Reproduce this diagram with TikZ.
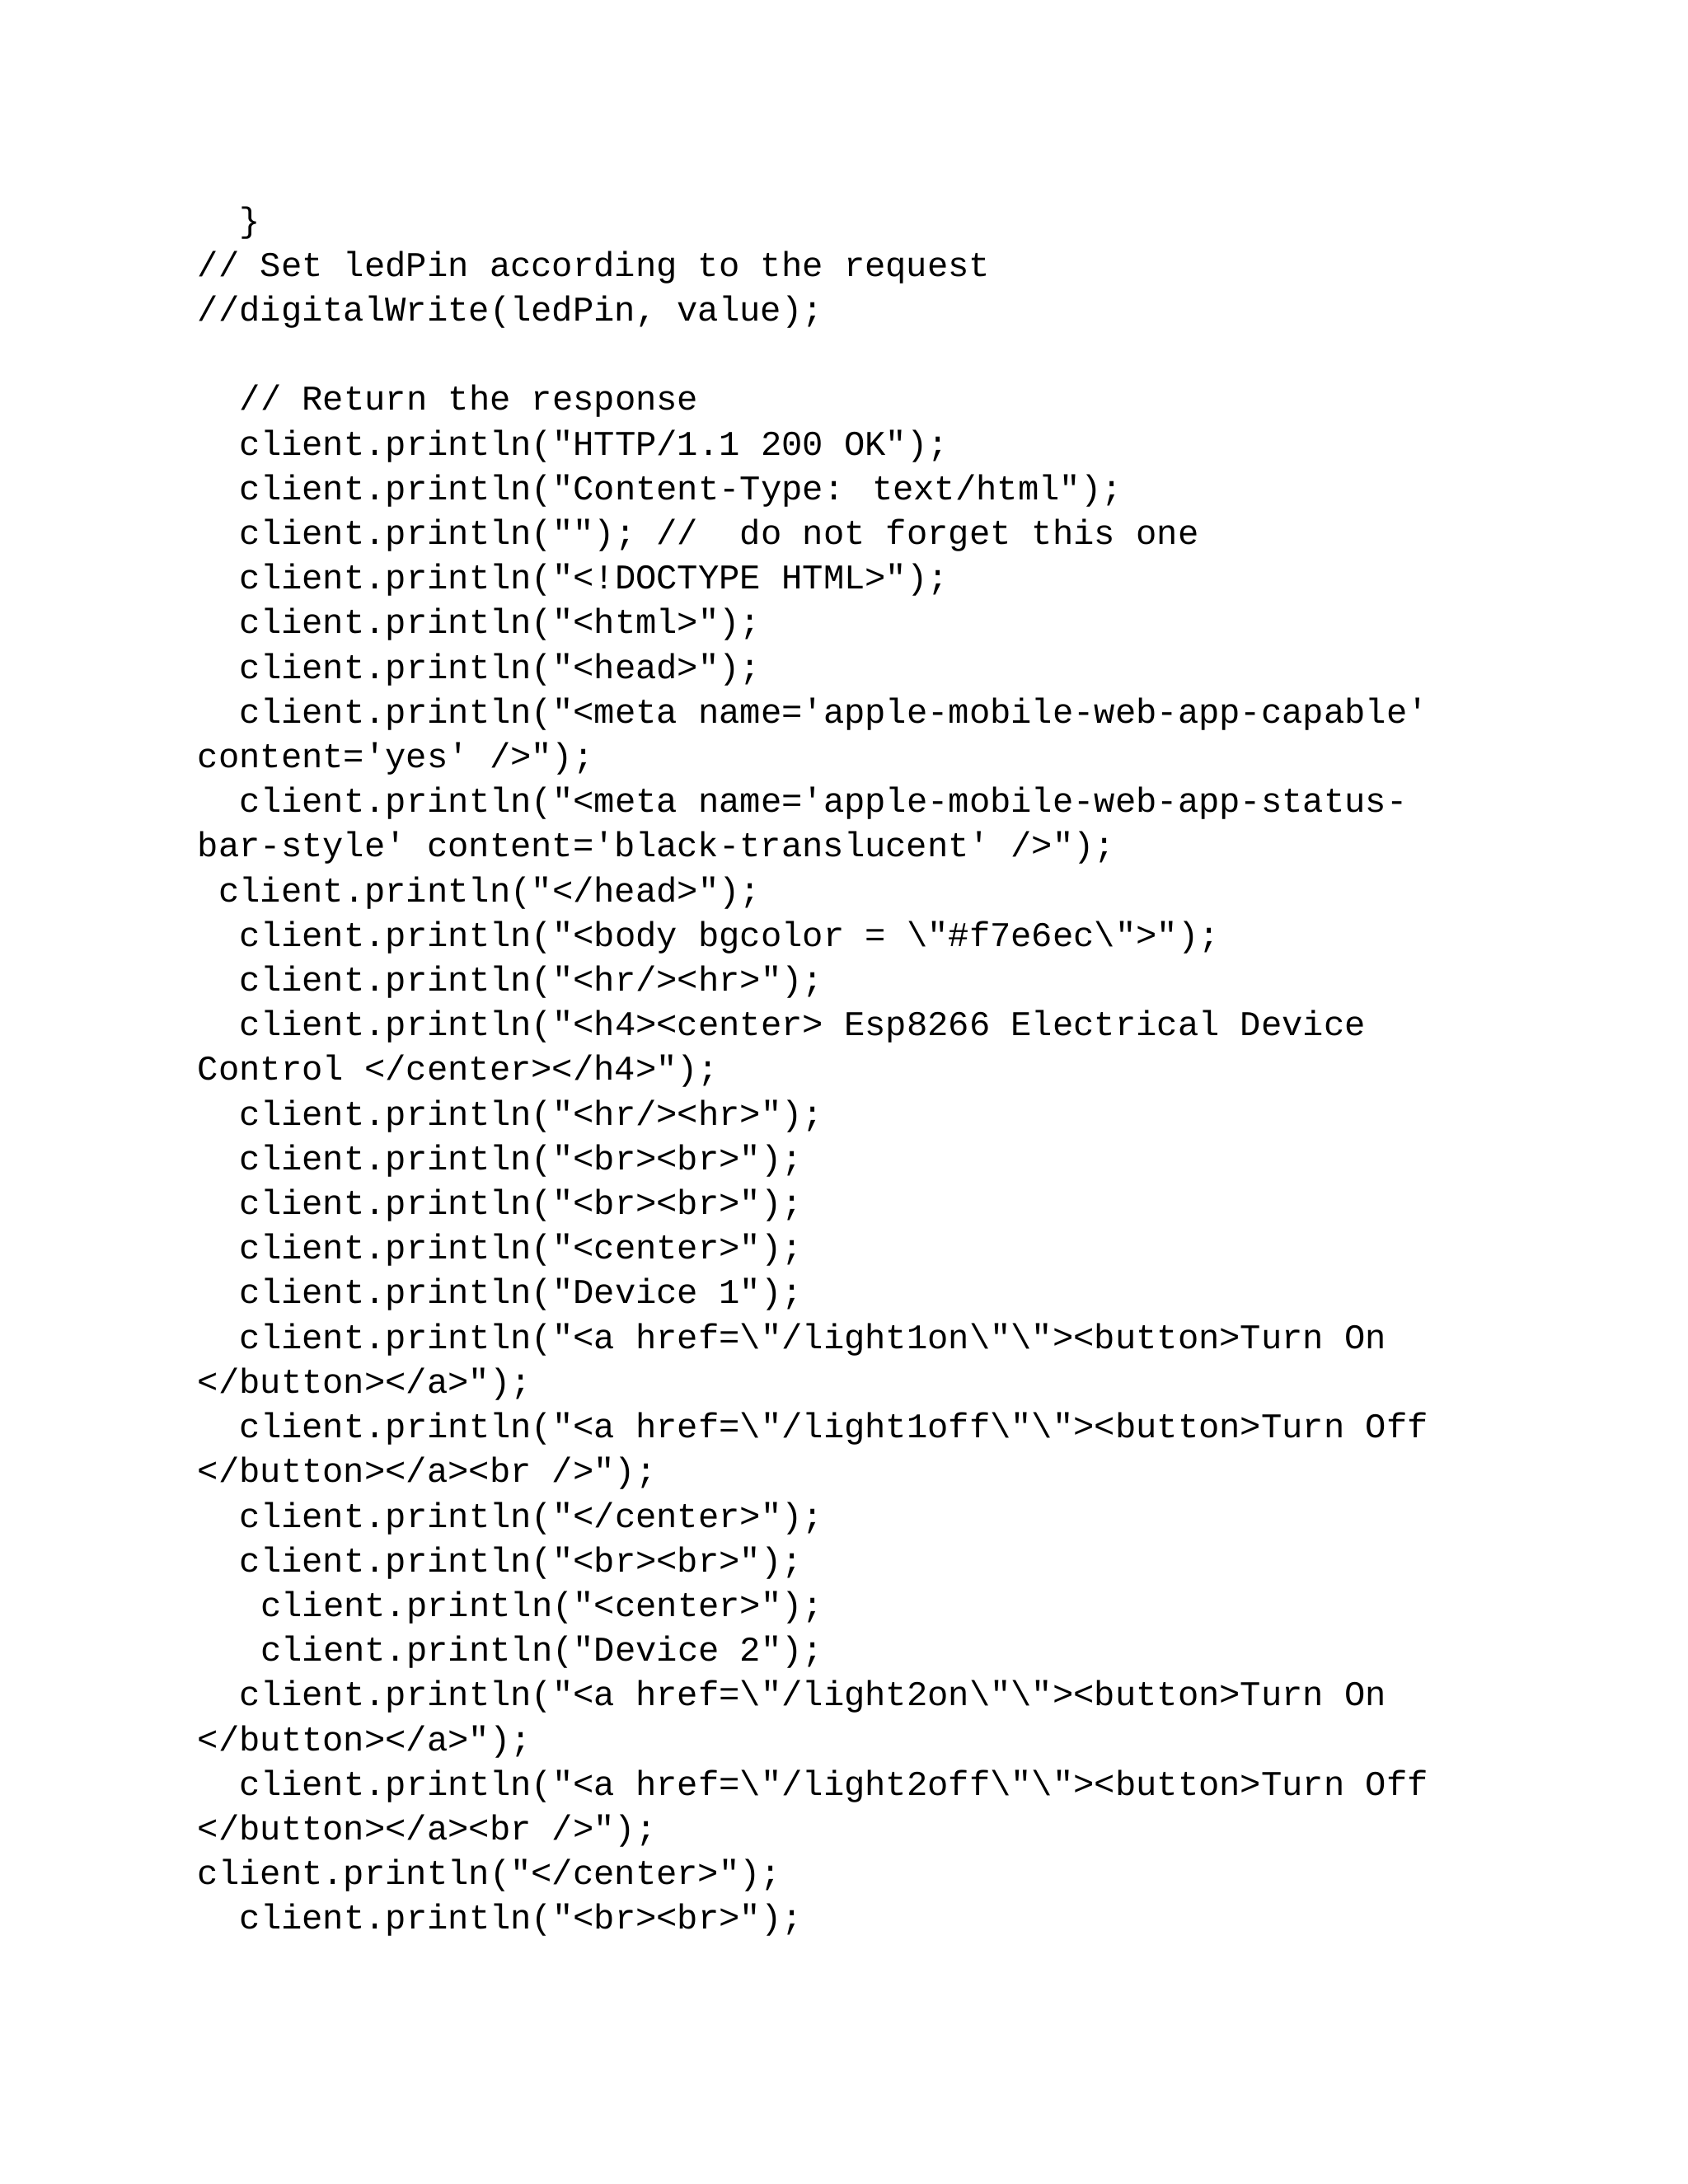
\documentclass[tikz,border=0pt]{standalone}
\usepackage{fontspec}
\newfontfamily\codefont{Liberation Mono}
\begin{document}
\begin{tikzpicture}[x=1pt,y=1pt,codeline/.style={anchor=base west,inner sep=0pt,font=\codefont\fontsize{12.6}{15}\selectfont}]
\fill[white] (0,0) rectangle (612,-792);
\useasboundingbox (0,0) rectangle (612,-792);
\def\L#1#2#3{\node[codeline] (l#1) at (71.5,{-(168+32.4*#1)/2}) {\hspace*{#2\dimexpr 7.6pt\relax}#3};}
\L{0}{2}{\}}
\L{1}{0}{// Set ledPin according to the request}
\L{2}{0}{//digitalWrite(ledPin, value);}
\L{4}{2}{// Return the response}
\L{5}{2}{client.println("HTTP/1.1 200 OK");}
\L{6}{2}{client.println("Content-Type: text/html");}
\L{7}{2}{client.println(""); //\ \ do not forget this one}
\L{8}{2}{client.println("<!DOCTYPE HTML>");}
\L{9}{2}{client.println("<html>");}
\L{10}{2}{client.println("<head>");}
\L{11}{2}{client.println("<meta name='apple-mobile-web-app-capable'}
\L{12}{0}{content='yes' />");}
\L{13}{2}{client.println("<meta name='apple-mobile-web-app-status-}
\L{14}{0}{bar-style' content='black-translucent' />");}
\L{15}{1}{client.println("</head>");}
\L{16}{2}{client.println("<body bgcolor = \textbackslash"\#f7e6ec\textbackslash">");}
\L{17}{2}{client.println("<hr/><hr>");}
\L{18}{2}{client.println("<h4><center> Esp8266 Electrical Device}
\L{19}{0}{Control </center></h4>");}
\L{20}{2}{client.println("<hr/><hr>");}
\L{21}{2}{client.println("<br><br>");}
\L{22}{2}{client.println("<br><br>");}
\L{23}{2}{client.println("<center>");}
\L{24}{2}{client.println("Device 1");}
\L{25}{2}{client.println("<a href=\textbackslash"/light1on\textbackslash"\textbackslash">{}<button>Turn On}
\L{26}{0}{</button></a>");}
\L{27}{2}{client.println("<a href=\textbackslash"/light1off\textbackslash"\textbackslash">{}<button>Turn Off}
\L{28}{0}{</button></a><br />");}
\L{29}{2}{client.println("</center>");}
\L{30}{2}{client.println("<br><br>");}
\L{31}{3}{client.println("<center>");}
\L{32}{3}{client.println("Device 2");}
\L{33}{2}{client.println("<a href=\textbackslash"/light2on\textbackslash"\textbackslash">{}<button>Turn On}
\L{34}{0}{</button></a>");}
\L{35}{2}{client.println("<a href=\textbackslash"/light2off\textbackslash"\textbackslash">{}<button>Turn Off}
\L{36}{0}{</button></a><br />");}
\L{37}{0}{client.println("</center>");}
\L{38}{2}{client.println("<br><br>");}
\end{tikzpicture}
\end{document}
